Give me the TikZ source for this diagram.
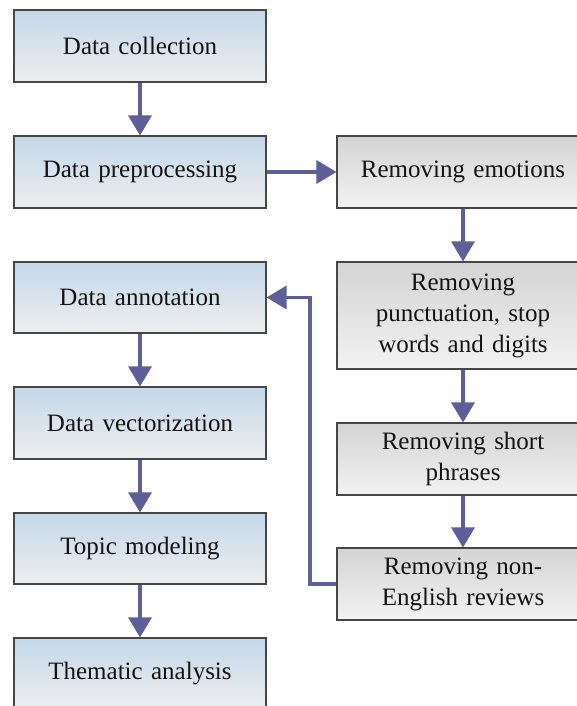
\documentclass[tikz,border=0pt]{standalone}
\usepackage{fontspec}
\setmainfont{Liberation Serif}
\usetikzlibrary{arrows.meta}
\definecolor{arr}{RGB}{94,94,152}
\definecolor{bluetop}{RGB}{196,216,234}
\definecolor{bluebot}{RGB}{238,238,238}
\definecolor{graytop}{RGB}{212,212,212}
\definecolor{graybot}{RGB}{242,242,242}
\definecolor{edge}{RGB}{70,70,70}
\definecolor{txt}{RGB}{20,20,20}
\tikzset{
  box/.style={draw=edge, line width=1.1pt, minimum width=252pt, text width=240pt, align=center,
    inner sep=0pt, text=txt, font=\fontsize{25}{31}\selectfont},
  bluebox/.style={box, top color=bluetop, bottom color=bluebot},
  graybox/.style={box, top color=graytop, bottom color=graybot},
  flow/.style={draw=arr, line width=3.4pt, -{Triangle[width=23pt,length=20pt]}}
}
\begin{document}
\begin{tikzpicture}[x=1pt,y=-1pt]
\useasboundingbox (0,0) rectangle (577,706);
\clip (0,0) rectangle (577,706);
\node[bluebox, minimum height=72pt] (dc) at (140,46) {Data collection};
\node[bluebox, minimum height=72pt] (dp) at (140,172) {Data preprocessing};
\node[bluebox, minimum height=71pt] (da) at (140,297.5) {Data annotation};
\node[bluebox, minimum height=72pt] (dv) at (140,423) {Data vectorization};
\node[bluebox, minimum height=71pt] (tm) at (140,548.5) {Topic modeling};
\node[bluebox, minimum height=72pt] (ta) at (140,674) {Thematic analysis};
\node[graybox, minimum height=72pt] (re) at (463,172) {Removing emotions};
\node[graybox, minimum height=107pt] (rp) at (463,315.5) {Removing\\punctuation, stop\\words and digits};
\node[graybox, minimum height=72pt] (rs) at (463,459) {Removing short\\phrases};
\node[graybox, minimum height=72pt] (rn) at (463,584) {Removing non-\\English reviews};
\coordinate (turn) at (310,584);
\draw[flow] (dc) -- (dp);
\draw[flow] (dp) -- (re);
\draw[flow] (re) -- (rp);
\draw[flow] (rp) -- (rs);
\draw[flow] (rs) -- (rn);
\draw[flow] (rn.west) -- (turn) |- (da.east);
\draw[flow] (da) -- (dv);
\draw[flow] (dv) -- (tm);
\draw[flow] (tm) -- (ta);
\end{tikzpicture}
\end{document}
